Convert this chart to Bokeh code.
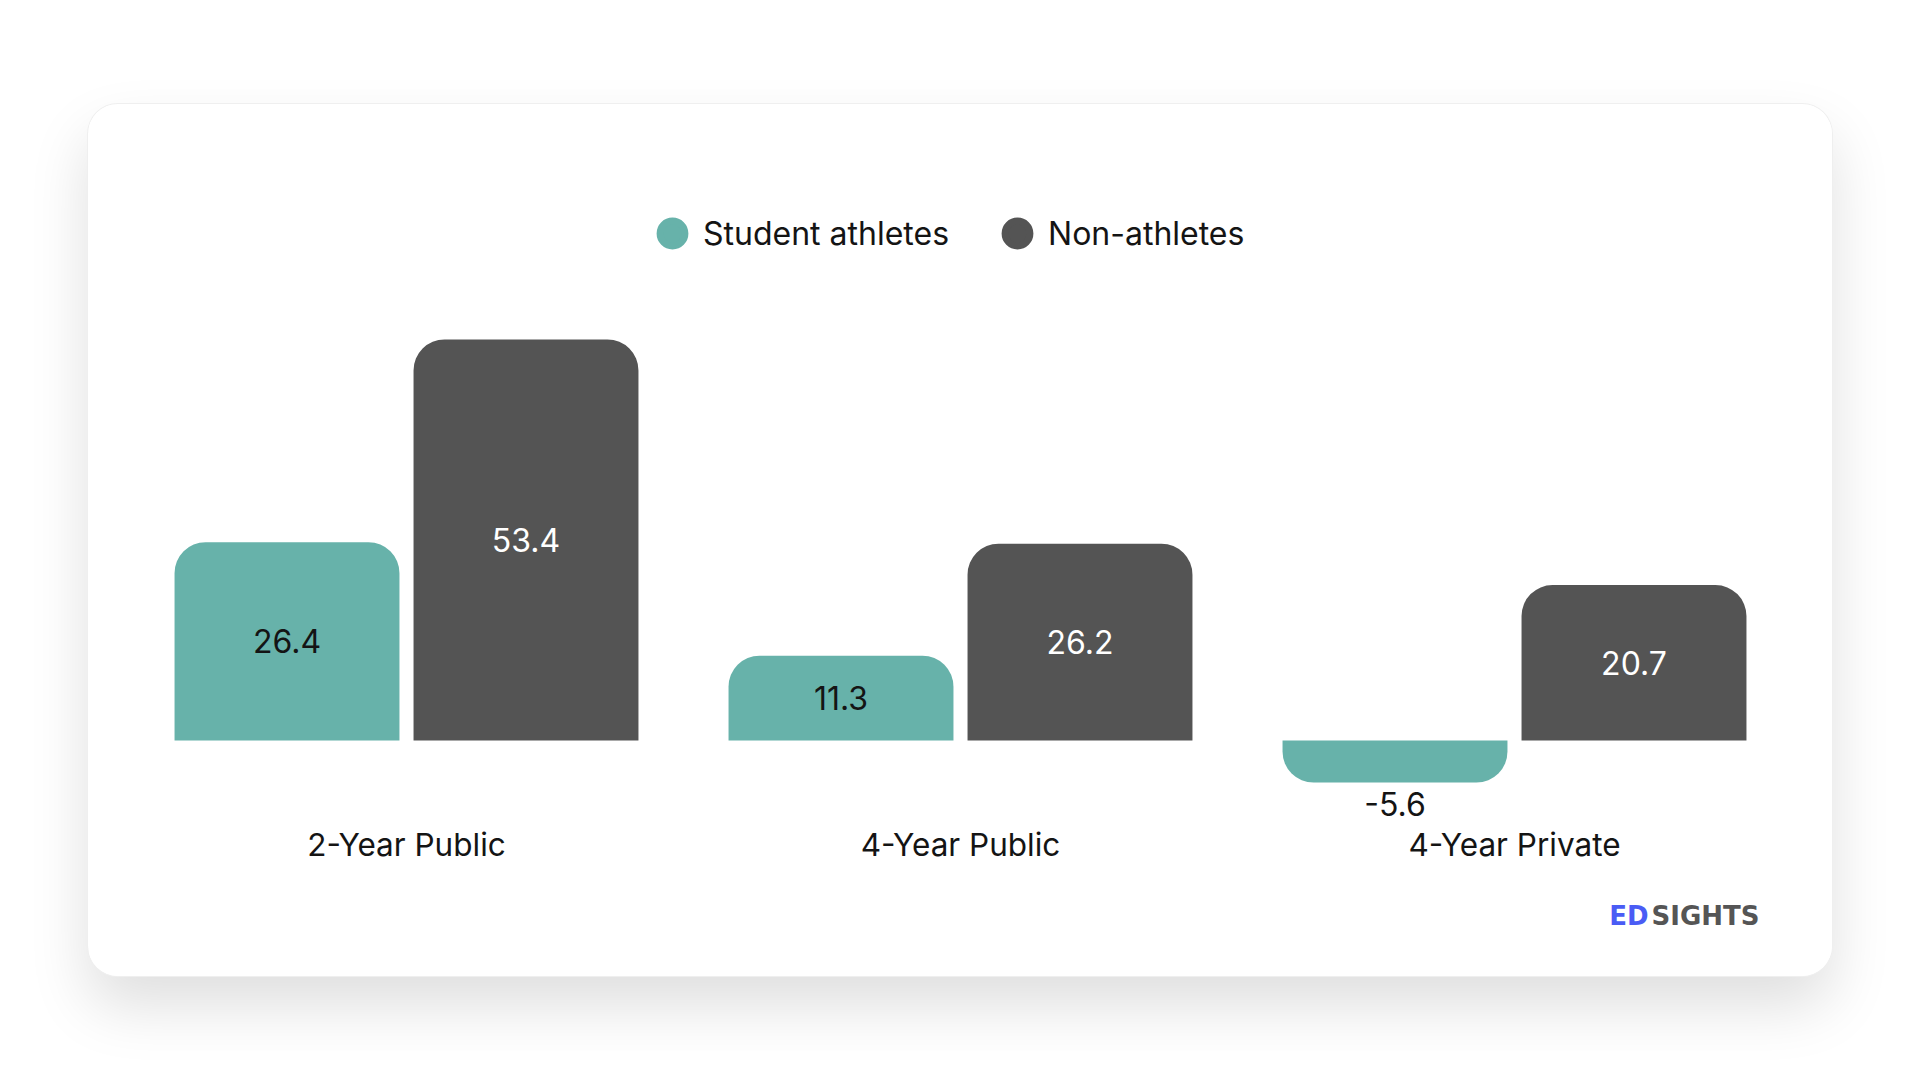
from bokeh.plotting import figure
from bokeh.models import ColumnDataSource, FactorRange, Range1d, Legend, LegendItem, Label
from bokeh.transform import dodge
from bokeh.embed import file_html
from bokeh.resources import INLINE
from bokeh.core.properties import value

# ---- data ----
categories = ["2-Year Public", "4-Year Public", "4-Year Private"]
series = ["Student athletes", "Non-athletes"]
student_athletes = [26.4, 11.3, -5.6]
non_athletes = [53.4, 26.2, 20.7]

# ---- style ----
FONT = "Inter"
colors = ["#67b2aa", "#545454"]
label_colors = ["#141414", "#ffffff"]
W, H = 1744, 872
R = 31
bar_w = 0.406
offsets = [-0.2157, 0.2157]
AXIS_Y = -11.0

p = figure(
    x_range=FactorRange(*categories),
    y_range=Range1d(-28.76, 71.9),
    width=W, height=H,
    output_backend="svg", toolbar_location=None,
    y_axis_location=None,
    min_border_left=41, min_border_right=41,
    min_border_top=96, min_border_bottom=20,
    outline_line_color=None,
    background_fill_color="white", border_fill_color="white",
)
p.margin = (104, 0, 0, 88)
p.styles = {
    "border-radius": "30px",
    "overflow": "hidden",
    "box-shadow": "0 0 0 1px #efefef, 0 30px 60px rgba(0,0,0,0.13)",
}

p.xgrid.visible = False
p.ygrid.visible = False
ax = p.xaxis[0]
ax.fixed_location = AXIS_Y
ax.axis_line_color = None
ax.major_tick_line_color = None
ax.minor_tick_line_color = None
ax.major_tick_out = 0
ax.major_label_standoff = 2
ax.major_label_text_font = FONT
ax.major_label_text_font_size = "31.5px"
ax.major_label_text_color = "#141414"

legend_items = []
for name, vals, col, lcol, off in zip(series, [student_athletes, non_athletes], colors, label_colors, offsets):
    xpos = dodge("cat", off, range=p.x_range)
    pos = [(c, v) for c, v in zip(categories, vals) if v >= 0]
    neg = [(c, v) for c, v in zip(categories, vals) if v < 0]
    if pos:
        src = ColumnDataSource(dict(cat=[c for c, _ in pos], top=[v for _, v in pos], bottom=[0] * len(pos)))
        p.vbar(x=xpos, top="top", bottom="bottom", width=bar_w, source=src,
               fill_color=col, line_color=None, border_radius=(R, R, 0, 0))
    if neg:
        src = ColumnDataSource(dict(cat=[c for c, _ in neg], top=[0] * len(neg), bottom=[v for _, v in neg]))
        p.vbar(x=xpos, top="top", bottom="bottom", width=bar_w, source=src,
               fill_color=col, line_color=None, border_radius=(0, 0, R, R))
    lsrc = ColumnDataSource(dict(
        cat=categories,
        y=[v / 2 if v >= 0 else v for v in vals],
        yoff=[0 if v >= 0 else 21 for v in vals],
        txt=[f"{v:.1f}" for v in vals],
        tc=[lcol if v >= 0 else "#141414" for v in vals],
    ))
    p.text(x=xpos, y="y", text="txt", source=lsrc, y_offset="yoff",
           text_align="center", text_baseline="middle",
           text_font=value(FONT), text_font_size="32px", text_color="tc")
    # legend-only marker (not-a-number point, never drawn in the plot)
    r = p.scatter(x=[categories[0]], y=[float("nan")], marker="circle", size=32,
                  fill_color=col, line_color=col, line_width=7)
    legend_items.append(LegendItem(label=name, renderers=[r]))

legend = Legend(
    items=legend_items, orientation="horizontal",
    location=(512, 692),
    border_line_color=None, background_fill_alpha=0,
    padding=0, margin=0, spacing=37,
    glyph_width=62, glyph_height=62, label_standoff=0, label_height=32,
    label_text_font=FONT, label_text_font_size="32px", label_text_color="#141414",
)
p.add_layout(legend)

LOGO_FONT = "DejaVu Sans"
p.add_layout(Label(x=1519, y=41, x_units="screen", y_units="screen", text="ED",
                   text_align="right", text_baseline="middle", text_font=LOGO_FONT,
                   text_font_style="bold", text_font_size="26px", text_color="#4a5cf5"))
p.add_layout(Label(x=1522, y=41, x_units="screen", y_units="screen", text="SIGHTS",
                   text_align="left", text_baseline="middle", text_font=LOGO_FONT,
                   text_font_style="bold", text_font_size="26px", text_color="#555555"))

open("out.html", "w").write(file_html(p, INLINE))
